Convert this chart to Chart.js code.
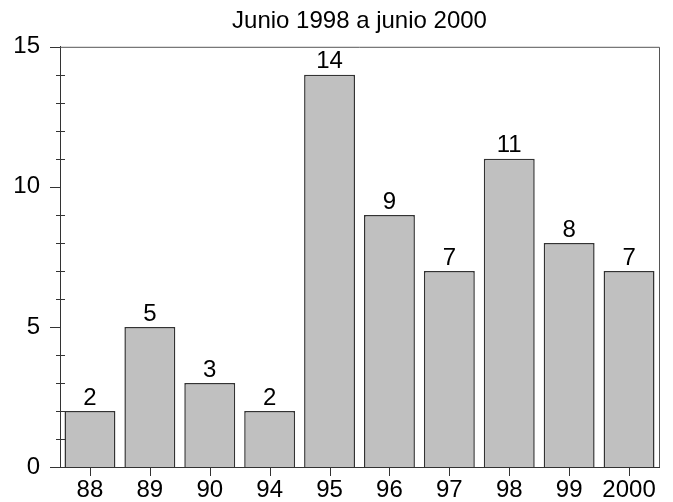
<!DOCTYPE html>
<html>
<head>
<meta charset="utf-8">
<script src="https://cdn.jsdelivr.net/npm/chart.js@4.4.1/dist/chart.umd.min.js"></script>
<style>
  html, body { margin: 0; padding: 0; background: #fff; }
  #wrap { width: 673px; height: 502px; }
</style>
</head>
<body>
<div id="wrap"><canvas id="chart"></canvas></div>
<script>
// 데이터
const years = ['88', '89', '90', '94', '95', '96', '97', '98', '99', '2000'];
const counts = [2, 5, 3, 2, 14, 9, 7, 11, 8, 7];
const yMajorTicks = [0, 5, 10, 15];
const titleText = 'Junio 1998 a junio 2000';

const FONT = 'Liberation Sans, Arial, Helvetica, sans-serif';
const LABEL_SIZE = 24;

// 막대 위 값 표시 + 눈금 + 테두리
const decorPlugin = {
  id: 'decor',
  afterDatasetsDraw(chart) {
    const ctx = chart.ctx;
    const area = chart.chartArea;
    const xs = chart.scales.x;
    const ys = chart.scales.y;
    ctx.save();

    // 테두리 (위, 오른쪽)
    ctx.strokeStyle = '#555';
    ctx.lineWidth = 1;
    ctx.beginPath();
    ctx.moveTo(area.left, area.top + 0.5);
    ctx.lineTo(area.right + 0.5, area.top + 0.5);
    ctx.lineTo(area.right + 0.5, area.bottom);
    ctx.stroke();

    // y축 눈금
    ctx.strokeStyle = '#333';
    for (let v = 0; v <= 15; v++) {
      const y = Math.round(ys.getPixelForValue(v)) + 0.5;
      const major = yMajorTicks.includes(v);
      ctx.beginPath();
      ctx.moveTo(area.left - (major ? 10 : 4), y);
      ctx.lineTo(area.left + (major ? 0 : 5), y);
      ctx.stroke();
    }

    // x축 눈금
    years.forEach((_, i) => {
      const x = Math.round(xs.getPixelForValue(i)) + 0.5;
      ctx.beginPath();
      ctx.moveTo(x, area.bottom);
      ctx.lineTo(x, area.bottom + 9);
      ctx.stroke();
    });

    // 값 라벨
    const meta = chart.getDatasetMeta(0);
    ctx.fillStyle = '#000';
    ctx.font = LABEL_SIZE + 'px ' + FONT;
    ctx.textAlign = 'center';
    ctx.textBaseline = 'bottom';
    meta.data.forEach((bar, i) => {
      ctx.fillText(String(counts[i]), bar.x, bar.y - 1);
    });
    ctx.restore();
  }
};

const chart = new Chart(document.getElementById('chart'), {
  type: 'bar',
  data: {
    labels: years,
    datasets: [{
      data: counts,
      backgroundColor: '#c0c0c0',
      borderColor: '#333',
      borderWidth: 1.5,
      barPercentage: 0.85,
      categoryPercentage: 1.0
    }]
  },
  options: {
    responsive: true,
    maintainAspectRatio: false,
    animation: false,
    layout: { padding: { left: 0, right: 14, top: 0, bottom: 0 } },
    plugins: {
      legend: { display: false },
      tooltip: { enabled: false },
      title: {
        display: true,
        text: titleText,
        fullSize: false,
        color: '#000',
        font: { family: FONT, size: 24, weight: 'normal' },
        padding: { top: 7, bottom: 11 }
      }
    },
    scales: {
      x: {
        grid: { display: false, drawTicks: false },
        border: { display: true, color: '#333', width: 1 },
        ticks: { color: '#000', font: { family: FONT, size: LABEL_SIZE }, padding: 9, maxRotation: 0, autoSkip: false },
        afterFit: s => { s.height = 35; }
      },
      y: {
        min: 0,
        max: 15,
        grid: { display: false, drawTicks: false },
        border: { display: true, color: '#333', width: 1 },
        ticks: {
          stepSize: 1,
          autoSkip: false,
          color: '#000',
          font: { family: FONT, size: LABEL_SIZE },
          padding: 20,
          callback: v => (yMajorTicks.includes(v) ? v : '')
        },
        afterFit: s => { s.width = 60; }
      }
    }
  },
  plugins: [decorPlugin]
});
</script>
</body>
</html>
